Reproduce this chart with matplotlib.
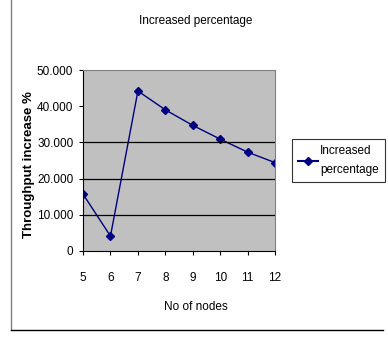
import numpy as np
import matplotlib.pyplot as plt
from matplotlib.lines import Line2D

nodes = np.array([5, 6, 7, 8, 9, 10, 11, 12])
increase = np.array([15.7, 4.1, 44.2, 39.0, 34.7, 30.9, 27.3, 24.4])
yticks = [0, 10, 20, 30, 40, 50]
ytick_labels = ["0", "10.000", "20.000", "30.000", "40.000", "50.000"]

plt.rcParams['font.family'] = ['Liberation Sans', 'DejaVu Sans']

fig = plt.figure(figsize=(3.88, 3.40), dpi=100)
ax = fig.add_axes([0.214, 0.262, 0.495, 0.532])
ax.set_facecolor('#C0C0C0')

ax.plot(nodes, increase, color='#000080', marker='D', markersize=4, linewidth=1)

ax.set_xlim(5, 12)
ax.set_ylim(0, 50)
ax.set_xticks(nodes)
ax.set_yticks(yticks)
ax.set_yticklabels(ytick_labels)
ax.tick_params(direction='out', length=3, labelsize=8.5, colors='black')
ax.tick_params(axis='x', pad=12)
ax.tick_params(axis='y', pad=4)
for y in [10, 20, 30]:
    ax.axhline(y, color='black', linewidth=0.9)
for s in ax.spines.values():
    s.set_color('#808080')
ax.spines['bottom'].set_color('black')
ax.spines['left'].set_color('black')

fig.text(196/388, 1 - 21/340, "Increased percentage", fontsize=8.5, ha='center', va='center')
fig.text(196/388, 1 - 307/340, "No of nodes", fontsize=8.5, ha='center', va='center')
fig.text(29/388, 1 - 165/340, "Throughput increase %", fontsize=9.5, fontweight='bold',
         rotation=90, ha='center', va='center')

handle = Line2D([], [], color='#000080', marker='D', markersize=4, linewidth=1.5)
leg = ax.legend([handle], ["Increased\npercentage"], loc='center left',
                bbox_to_anchor=(1.09, 0.5), fontsize=8.5, frameon=True,
                fancybox=False, edgecolor='black', handlelength=1.7,
                borderpad=0.5, handletextpad=0.15, borderaxespad=0)
leg.get_frame().set_linewidth(0.8)
for t in leg.get_texts():
    t.set_linespacing(1.7)

# outer chart border
fig.add_artist(Line2D([11/388, 11/388], [1, 10/340], color='#808080', linewidth=1))
fig.add_artist(Line2D([11/388, 383/388], [10/340, 10/340], color='black', linewidth=1))

fig.savefig("out.png", dpi=100)
